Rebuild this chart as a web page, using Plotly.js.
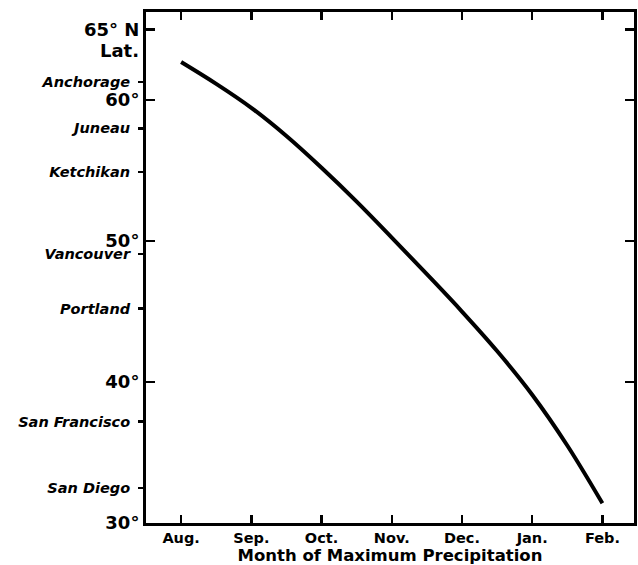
<!DOCTYPE html>
<html>
<head>
<meta charset="utf-8">
<script src="https://cdn.plot.ly/plotly-3.0.1.min.js"></script>
<style>html,body{margin:0;padding:0;background:#fff;}#chart{width:638px;height:565px;}</style>
</head>
<body>
<div id="chart"></div>
<script>
const monthVals = [0, 1, 2, 3, 4, 5, 6];
const monthLabels = ['Aug.', 'Sep.', 'Oct.', 'Nov.', 'Dec.', 'Jan.', 'Feb.'];
const curveMonth = [0, 0.5, 1, 1.5, 2, 2.5, 3, 3.5, 4, 4.5, 5, 5.5, 6];
const curveLat = [62.7, 61.15, 59.45, 57.45, 55.2, 52.8, 50.25, 47.65, 45.0, 42.2, 39.1, 35.5, 31.4];
const degVals = [30, 40, 50, 60, 65];
const degLabels = ['30°', '40°', '50°', '60°', '65° N'];
const cityNames = ['Anchorage', 'Juneau', 'Ketchikan', 'Vancouver', 'Portland', 'San Francisco', 'San Diego'];
const cityLat = [61.3, 58.0, 54.9, 49.1, 45.2, 37.2, 32.5];
const xTitle = 'Month of Maximum Precipitation';

const yRange = [30, 66.25];

const data = [
  {x: curveMonth, y: curveLat, mode: 'lines', type: 'scatter',
   line: {color: '#000', width: 4, shape: 'spline', smoothing: 1}, hoverinfo: 'skip', showlegend: false},
  {x: [0], y: [cityLat[0]], yaxis: 'y2', mode: 'markers', marker: {opacity: 0}, hoverinfo: 'skip', showlegend: false}
];

const layout = {
  width: 638, height: 565,
  margin: {l: 146, r: 4, t: 12, b: 42},
  paper_bgcolor: '#fff', plot_bgcolor: '#fff',
  showlegend: false,
  xaxis: {
    range: [-0.5, 6.45], tickvals: monthVals, ticktext: monthLabels,
    ticks: 'inside', ticklen: 8, tickwidth: 2.5, tickcolor: '#000',
    showline: true, linewidth: 3, linecolor: '#000', mirror: 'ticks',
    showgrid: false, zeroline: false,
    tickfont: {family: 'DejaVu Sans', size: 14.5, color: '#000', weight: 'bold'}, ticklabelstandoff: 0,
    title: {text: xTitle, font: {family: 'DejaVu Sans', size: 16.5, color: '#000', weight: 'bold'}, standoff: 1}
  },
  yaxis: {
    range: yRange, tickvals: degVals, ticktext: degLabels,
    ticks: 'inside', ticklen: 9, tickwidth: 2.5, tickcolor: '#000',
    showline: true, linewidth: 3, linecolor: '#000', mirror: 'ticks',
    showgrid: false, zeroline: false,
    tickfont: {family: 'DejaVu Sans', size: 18, color: '#000', weight: 'bold'},
    ticklabelstandoff: 0
  },
  yaxis2: {
    range: yRange, overlaying: 'y', side: 'left', anchor: 'x',
    tickvals: cityLat, ticktext: cityNames,
    ticks: 'outside', ticklen: 7, tickwidth: 2.5, tickcolor: '#000',
    showline: false, showgrid: false, zeroline: false,
    tickfont: {family: 'DejaVu Sans', size: 14.5, color: '#000', weight: 'bold', style: 'italic'},
    ticklabelstandoff: 5
  },
  annotations: [
    {text: 'Lat.', xref: 'paper', yref: 'y', x: 0, y: 63.55, xanchor: 'right', yanchor: 'middle',
     xshift: -5, showarrow: false, font: {family: 'DejaVu Sans', size: 18, color: '#000', weight: 'bold'}}
  ]
};

Plotly.newPlot('chart', data, layout, {displayModeBar: false, staticPlot: true});
</script>
</body>
</html>
